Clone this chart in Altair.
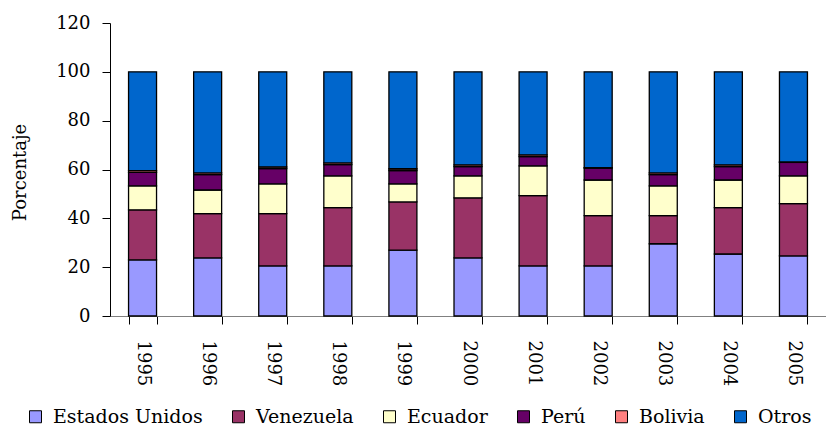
import altair as alt
import pandas as pd

years = ["1995", "1996", "1997", "1998", "1999", "2000", "2001", "2002", "2003", "2004", "2005"]
series = ["Estados Unidos", "Venezuela", "Ecuador", "Perú", "Bolivia", "Otros"]
colors = ["#9999FF", "#993366", "#FFFFCC", "#660066", "#FF8080", "#0066CC"]

estados_unidos = [23.0, 23.8, 20.5, 20.5, 27.0, 23.8, 20.5, 20.5, 29.6, 25.4, 24.6]
venezuela = [20.5, 18.1, 21.4, 23.9, 19.7, 24.6, 28.8, 20.6, 11.5, 19.0, 21.4]
ecuador = [9.8, 9.7, 12.2, 13.0, 7.4, 9.0, 12.2, 14.6, 12.2, 11.3, 11.4]
peru = [5.5, 6.3, 6.3, 4.6, 5.5, 3.8, 3.8, 4.9, 4.6, 5.5, 5.5]
bolivia = [0.7, 0.7, 0.7, 0.7, 0.7, 0.7, 0.7, 0.2, 0.7, 0.7, 0.2]
otros = [40.5, 41.4, 38.9, 37.3, 39.7, 38.1, 34.0, 39.2, 41.4, 38.1, 36.9]

values = [estados_unidos, venezuela, ecuador, peru, bolivia, otros]
rows = []
for si, (name, vals) in enumerate(zip(series, values)):
    for y, v in zip(years, vals):
        rows.append({"year": y, "pais": name, "valor": v, "orden": si})
df = pd.DataFrame(rows)

FONT = "DejaVu Serif"

chart = alt.Chart(df).mark_bar(stroke="black", strokeWidth=1.3, fillOpacity=1).encode(
    x=alt.X("year:N", sort=years, title=None,
            scale=alt.Scale(paddingInner=0.57, paddingOuter=0.285),
            axis=alt.Axis(labelAngle=90, labelAlign="left", labelBaseline="middle",
                          tickBand="extent", tickSize=8, tickColor="black",
                          domainColor="#808080", labelPadding=16,
                          labelFont=FONT, labelFontSize=18, labelColor="black",
                          labelFontWeight="normal")),
    y=alt.Y("valor:Q", stack="zero", title="Porcentaje",
            scale=alt.Scale(domain=[0, 120], nice=False),
            axis=alt.Axis(values=[0, 20, 40, 60, 80, 100, 120], grid=False,
                          tickSize=8, tickColor="black", domainColor="black",
                          labelPadding=12, labelFont=FONT, labelFontSize=18,
                          labelColor="black", titleFont=FONT, titleFontSize=18,
                          titleFontWeight="normal", titleColor="black",
                          titleX=-90, titleY=149, titleAngle=-90,
                          titleAlign="center", titleBaseline="middle")),
    color=alt.Color("pais:N", sort=series,
                    scale=alt.Scale(domain=series, range=colors),
                    legend=alt.Legend(title=None, orient="none", direction="horizontal",
                                      legendX=-84, legendY=384, columns=6,
                                      symbolType="square", symbolSize=144,
                                      symbolStrokeColor="black", symbolStrokeWidth=1,
                                      symbolOpacity=1, labelFont=FONT,
                                      labelFontSize=19, labelColor="black",
                                      labelOffset=8, columnPadding=26)),
    order=alt.Order("orden:Q", sort="ascending"),
).properties(
    width=716, height=293,
    autosize=alt.AutoSizeParams(type="none"),
    padding={"left": 102, "top": 15, "right": 0, "bottom": 110},
).configure_view(stroke=None)

chart.save("out.html", embed_options={"renderer": "svg", "actions": False})
